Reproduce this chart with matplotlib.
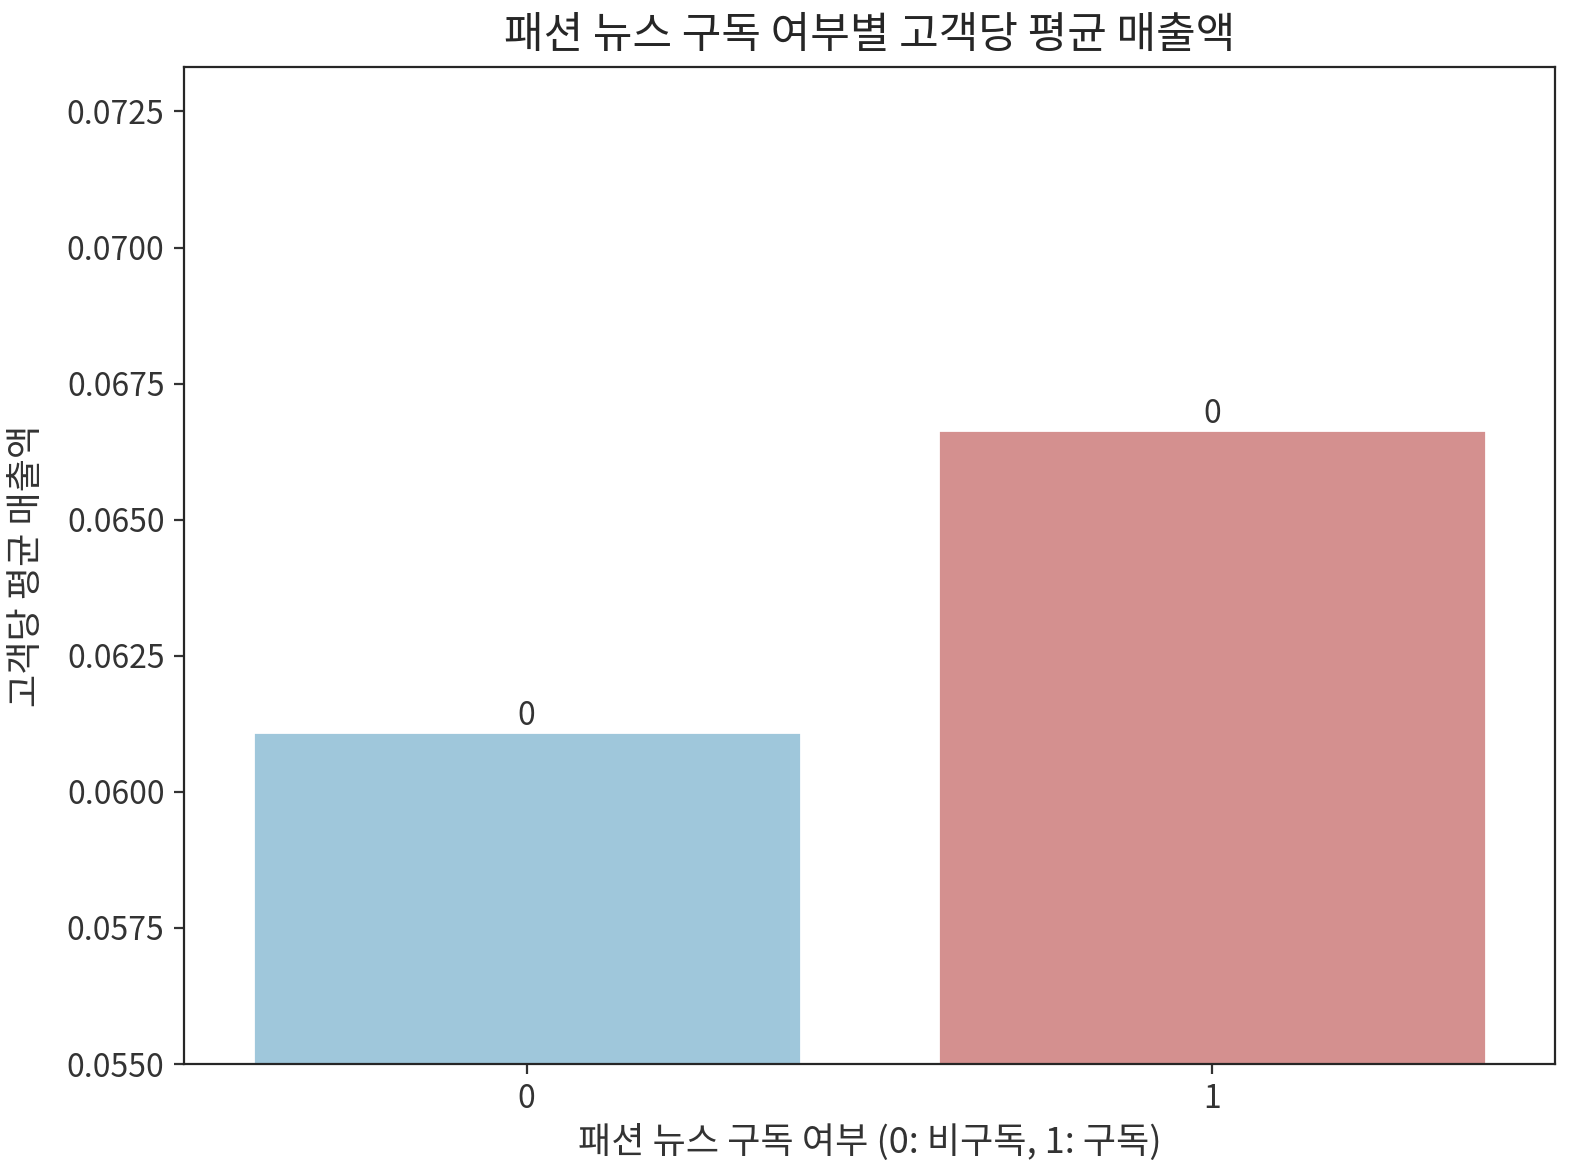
import matplotlib
matplotlib.use("Agg")
import matplotlib.pyplot as plt
import seaborn as sns

### data
groups = ["0", "1"]
avg_sales = [0.06110, 0.06665]
bar_colors = ["#9fc7db", "#d4908f"]

sns.set_style("ticks")
plt.rcParams['font.family'] = ['Noto Sans CJK KR', 'DejaVu Sans']
plt.rcParams['axes.unicode_minus'] = False

fig = plt.figure(figsize=(7.85, 5.84), dpi=200)
ax = fig.add_axes([0.1172, 0.0890, 0.8732, 0.8536])

bars = ax.bar(range(len(groups)), avg_sales, width=0.8, color=bar_colors)
ax.bar_label(bars, fmt='%d', fontsize=11.5, color='.2')

ax.set_xticks(range(len(groups)))
ax.set_xticklabels(groups)
ax.set_xlim(-0.5, 1.5)
ax.set_ylim(0.055, max(avg_sales) * 1.1)
ax.yaxis.set_major_formatter(matplotlib.ticker.FormatStrFormatter('%.4f'))
ax.tick_params(labelsize=11.5, colors='.2')

ax.set_title('패션 뉴스 구독 여부별 고객당 평균 매출액', fontsize=15.5, color='.15', pad=7)
ax.set_xlabel('패션 뉴스 구독 여부 (0: 비구독, 1: 구독)', fontsize=13, color='.2', labelpad=3)
ax.set_ylabel('고객당 평균 매출액', fontsize=13, color='.2', labelpad=8)

fig.savefig('out.png')
